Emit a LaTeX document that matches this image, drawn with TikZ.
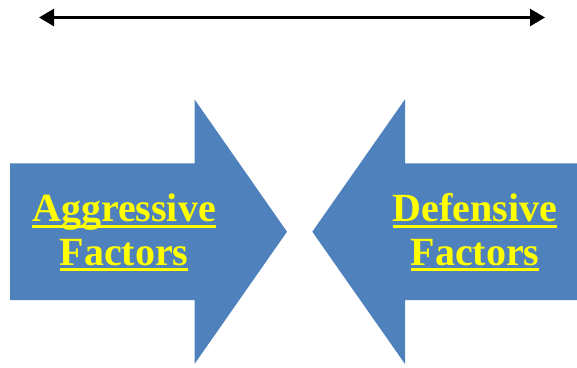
\documentclass[tikz,border=0pt]{standalone}
\usepackage{fontspec}
\setmainfont{Liberation Serif}
\usetikzlibrary{arrows.meta}
\definecolor{arrowblue}{HTML}{4F81BD}
\definecolor{txtyellow}{HTML}{FFFF00}
\newcommand\myul[1]{\setbox0\hbox{#1}\rlap{\rule[-5.8pt]{\wd0}{3pt}}\box0}
\tikzset{
  bigarrow/.style={fill=arrowblue, draw=none},
  label/.style={anchor=base, inner sep=0pt, text=txtyellow, font=\fontsize{40}{44}\selectfont\bfseries},
  dbl/.style={line width=2.6pt, {Triangle[length=15pt,width=17pt]}-{Triangle[length=15pt,width=17pt]}}
}
\begin{document}
\begin{tikzpicture}[x=1pt,y=-1pt]
\useasboundingbox (0,0) rectangle (577,367);
% top double arrow
\coordinate (tl) at (39,17.5);
\coordinate (tr) at (545,17.5);
\draw[dbl] (tl) -- (tr);
% left arrow
\fill[bigarrow] (10,163.3) -- (194.5,163.3) -- (194.5,99.3) -- (287,231.7) -- (194.5,364) -- (194.5,300) -- (10,300) -- cycle;
% right arrow
\fill[bigarrow] (577,163.3) -- (405,163.3) -- (405,99.3) -- (312.3,231.7) -- (405,364) -- (405,300) -- (577,300) -- cycle;
% labels
\node[label] (ag) at (124,221.7) {\myul{Aggressive}};
\node[label] (af) at (124,265) {\myul{Factors}};
\node[label] (df) at (474.8,221.7) {\myul{Defensive}};
\node[label] (dfa) at (475,265) {\myul{Factors}};
\end{tikzpicture}
\end{document}
